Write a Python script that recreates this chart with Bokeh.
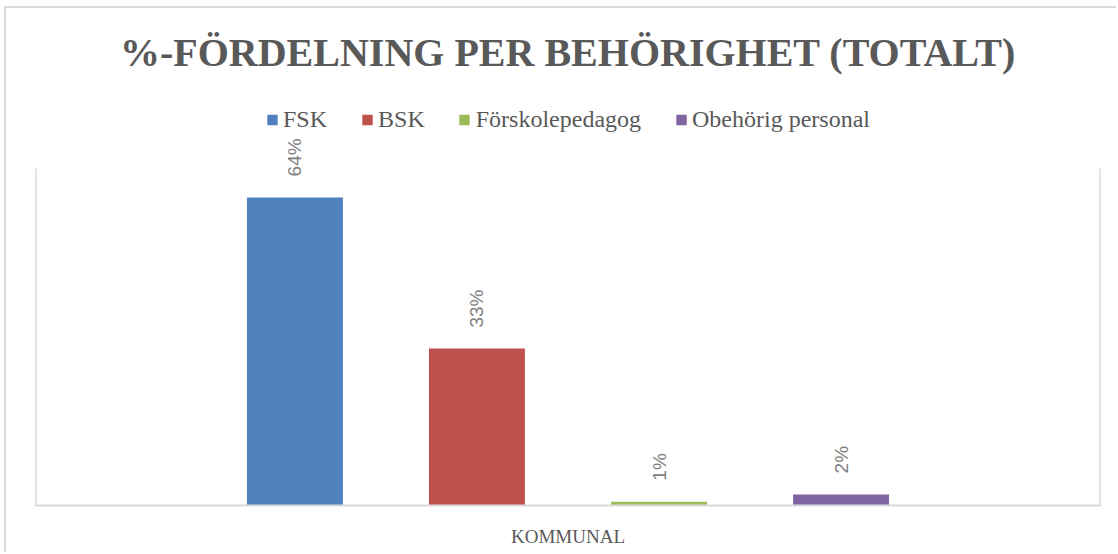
import math
from bokeh.plotting import figure
from bokeh.models import FactorRange, Range1d, ColumnDataSource, Legend, LegendItem
from bokeh.transform import dodge
from bokeh.embed import file_html
from bokeh.resources import INLINE
from bokeh.core.properties import value

# ---- data ----
category = "KOMMUNAL"
series = ["FSK", "BSK", "Förskolepedagog", "Obehörig personal"]
values = [0.64, 0.326, 0.008, 0.023]
colors = ["#4F81BD", "#C0504D", "#9BBB59", "#8064A2"]
title_text = "%-FÖRDELNING PER BEHÖRIGHET (TOTALT)"
value_axis_max = 0.70

# ---- layout constants ----
offsets = [-0.2564, -0.0855, 0.0855, 0.2564]
bar_w = 0.0901
GRAY = "#595959"
LINE = "#D9D9D9"
frame_top_value = 0.858  # extra room above the plot area for the legend

p = figure(width=1112, height=546,
           x_range=FactorRange(factors=[category], range_padding=0),
           y_range=Range1d(0, frame_top_value),
           output_backend="svg", toolbar_location=None,
           min_border_left=29, min_border_right=18,
           min_border_bottom=49, min_border_top=84)
p.styles = {"margin-left": "4px", "margin-top": "6px",
            "border-left": f"2px solid {LINE}", "border-top": f"2px solid {LINE}"}

p.title.text = title_text
p.title.text_font = "Liberation Serif"
p.title.text_font_size = "40px"
p.title.text_font_style = "bold"
p.title.text_color = GRAY
p.title.align = "center"
p.title.standoff = 36

p.outline_line_color = None
p.xgrid.grid_line_color = None
p.ygrid.grid_line_color = None
p.yaxis.visible = False

ax = p.xaxis[0]
ax.axis_line_color = LINE
ax.axis_line_width = 2
ax.major_tick_line_color = None
ax.minor_tick_line_color = None
ax.major_label_text_font = "Liberation Serif"
ax.major_label_text_font_size = "19px"
ax.major_label_text_color = GRAY
ax.major_label_standoff = 14

# plot-area side borders (left and right), up to the value axis maximum
edge_src = ColumnDataSource(dict(cat=[category, category], top=[value_axis_max, value_axis_max]))
for off in (-0.5, 0.5):
    p.segment(x0=dodge("cat", off, range=p.x_range), y0=0,
              x1=dodge("cat", off, range=p.x_range), y1="top",
              source=edge_src, line_color=LINE, line_width=2)

items = []
for s, v, c, off in zip(series, values, colors, offsets):
    src = ColumnDataSource(dict(cat=[category], val=[v], label=[f"{round(v*100):d}%"]))
    r = p.vbar(x=dodge("cat", off, range=p.x_range), top="val", bottom=0, width=bar_w,
               source=src, fill_color=c, line_color=None)
    p.text(x=dodge("cat", off, range=p.x_range), y="val", text="label", source=src,
           angle=math.pi / 2, text_align="left", text_baseline="middle",
           y_offset=-21, text_font=value("Liberation Sans"), text_font_size="19px",
           text_color="#808080")
    items.append(LegendItem(label=s, renderers=[r]))

legend = Legend(items=items, orientation="horizontal", location="top_center",
                label_text_font="Liberation Serif", label_text_font_size="24px",
                label_text_color=GRAY, glyph_width=13, glyph_height=13,
                label_standoff=5, spacing=33, border_line_color=None,
                background_fill_alpha=0, padding=0, margin=14)
p.add_layout(legend)

open("out.html", "w").write(file_html(p, INLINE))
